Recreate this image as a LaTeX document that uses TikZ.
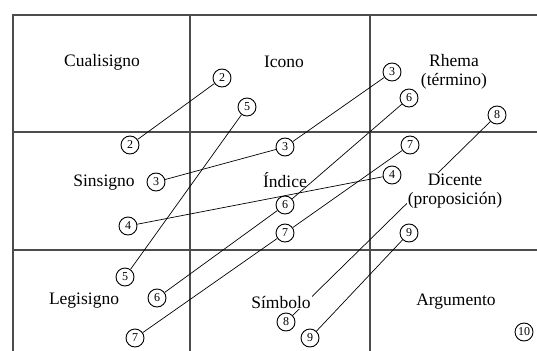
\documentclass[tikz,border=0pt]{standalone}
\usepackage{fontspec}
\setmainfont{Liberation Serif}
\usepackage{tikz}
\usetikzlibrary{positioning, backgrounds}

\tikzset{
    num/.style={circle, draw, fill=white, line width=0.9pt, inner sep=0pt,
        minimum size=18pt, font=\fontsize{12}{14}\selectfont},
    cat/.style={font=\fontsize{17.5}{19}\selectfont, align=center, inner sep=1pt},
    grid line/.style={draw=black!70, line width=1.3pt}
}

\begin{document}
\begin{tikzpicture}[x=1pt, y=-1pt]
    \useasboundingbox (0,0) rectangle (537,350);

    % Categorías
    \node[cat] (cuali) at (102,62) {Cualisigno};
    \node[cat] (icono) at (284,62) {Icono};
    \node[cat] (rhema) at (454,72) {Rhema\\(término)};
    \node[cat] (sinsi) at (104,183) {Sinsigno};
    \node[cat] (indice) at (285,180) {Índice};
    \node[cat, fill=white] (dicente) at (455,191) {Dicente\\(proposición)};
    \node[cat] (legi) at (84,301) {Legisigno};
    \node[cat, fill=white] (simbolo) at (281,302) {Símbolo};
    \node[cat] (argu) at (456,302) {Argumento};

    % Círculos numerados
    \node[num] (n2a) at (222,78) {2};
    \node[num] (n2b) at (130,145) {2};
    \node[num] (n5a) at (247,107) {5};
    \node[num] (n5b) at (125,277) {5};
    \node[num] (n3a) at (392,72) {3};
    \node[num] (n3b) at (285,147) {3};
    \node[num] (n3c) at (156,182) {3};
    \node[num] (n6a) at (409,98) {6};
    \node[num] (n6b) at (285,205) {6};
    \node[num] (n6c) at (157,298) {6};
    \node[num] (n7a) at (410,145) {7};
    \node[num] (n7b) at (285,233) {7};
    \node[num] (n7c) at (135,338) {7};
    \node[num] (n4a) at (392,175) {4};
    \node[num] (n4b) at (128,226) {4};
    \node[num] (n8a) at (497,115) {8};
    \node[num] (n8b) at (286,322) {8};
    \node[num] (n9a) at (409,233) {9};
    \node[num] (n9b) at (310,338) {9};
    \node[num] (n10) at (524,332) {10};

    \begin{scope}[on background layer]
        % Cuadrícula
        \draw[grid line] (13,352) -- (13,15) -- (539,15);
        \draw[grid line] (13,132) -- (539,132);
        \draw[grid line] (13,250) -- (539,250);
        \draw[grid line] (190,15) -- (190,352);
        \draw[grid line] (370,15) -- (370,352);
        % Conexiones
        \begin{scope}[line width=0.7pt]
            \draw (n2a) -- (n2b);
            \draw (n5a) -- (n5b);
            \draw (n3a) -- (n3b) -- (n3c);
            \draw (n6a) -- (n6b) -- (n6c);
            \draw (n7a) -- (n7b) -- (n7c);
            \draw (n4a) -- (n4b);
            \draw (n8a) -- (n8b);
            \draw (n9a) -- (n9b);
        \end{scope}
    \end{scope}
\end{tikzpicture}
\end{document}
